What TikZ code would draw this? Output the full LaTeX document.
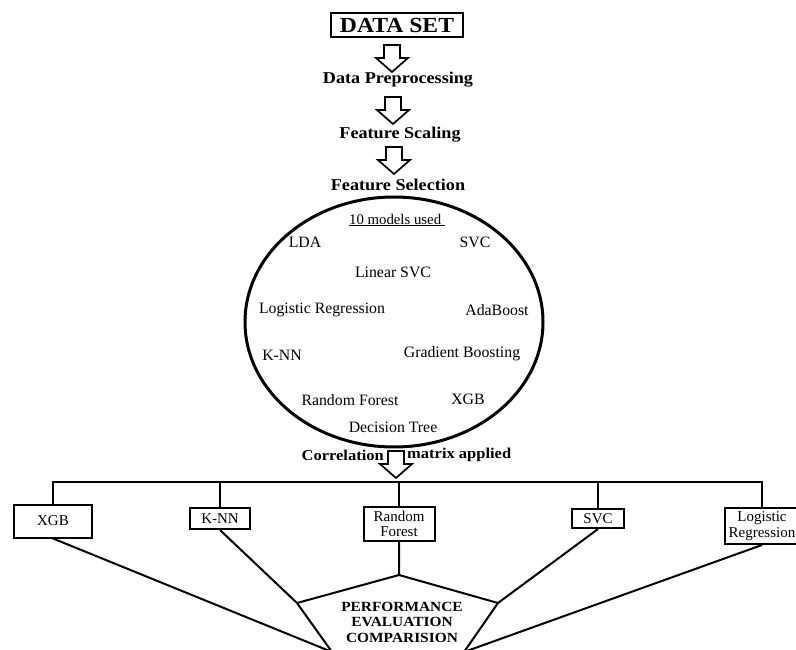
\documentclass[tikz,border=0pt]{standalone}
\usepackage{fontspec}
\setmainfont{Liberation Serif}
\newfontfamily\titlefont[FakeStretch=1.1]{Liberation Serif}
\usetikzlibrary{shapes.geometric,calc}
\begin{document}
\begin{tikzpicture}[x=1pt,y=-1pt,
  title/.style={font={\titlefont\bfseries\fontsize{16.5}{19}\selectfont}, inner sep=0},
  bigtitle/.style={font={\titlefont\bfseries\fontsize{21.5}{24}\selectfont}},
  lbl/.style={font={\fontsize{15.8}{18}\selectfont}, inner sep=0},
  boxb/.style={draw, line width=2pt, inner sep=0, align=center, font={\fontsize{15}{15.5}\selectfont}},
  conn/.style={line width=2pt, line join=miter},
  downarrow/.pic={\draw[line width=1.7pt, line join=miter, fill=white]
     (-8,0) -- (-8,13) -- (-16,13) -- (0,27) -- (16,13) -- (8,13) -- (8,0) -- cycle;}
]
\useasboundingbox (0,0) rectangle (796,650);
\fill[white] (0,0) rectangle (796,650);

% top chain
\node[draw, line width=2pt, bigtitle, minimum width=132pt, minimum height=24pt, inner sep=0] (ds) at (397,25) {DATA SET};
\node[title] (pre) at (398,80) {Data Preprocessing};
\node[title] (scal) at (400,135) {Feature Scaling};
\node[title] (sel) at (398,185) {Feature Selection};
\coordinate (a1) at (392,45);
\coordinate (a2) at (393,97);
\coordinate (a3) at (394,147);
\pic at (a1) {downarrow};
\pic at (a2) {downarrow};
\pic at (a3) {downarrow};

% ellipse with models
\node[draw, ellipse, line width=3pt, minimum width=298pt, minimum height=250pt, inner sep=0] (models) at (394,322) {};
\node[lbl, font={\fontsize{14.8}{17}\selectfont}] (used) at (397,220) {\underline{10 models used\ }};
\node[lbl] (m1) at (305,242) {LDA};
\node[lbl] (m2) at (475,242) {SVC};
\node[lbl] (m3) at (393,272) {Linear SVC};
\node[lbl] (m4) at (322,310) {Logistic Regression};
\node[lbl] (m5) at (497,310) {AdaBoost};
\node[lbl] (m6) at (282,355) {K-NN};
\node[lbl] (m7) at (462,354) {Gradient Boosting};
\node[lbl] (m8) at (350,400) {Random Forest};
\node[lbl] (m9) at (468,399) {XGB};
\node[lbl] (m10) at (393,427) {Decision Tree};

% correlation
\node[title, font={\titlefont\bfseries\fontsize{15}{17}\selectfont}, anchor=east] (corr) at (384,455) {Correlation};
\node[title, font={\titlefont\bfseries\fontsize{15}{17}\selectfont}, anchor=west] (mat) at (407,455) {matrix applied};
\coordinate (a4) at (396,451);
\pic at (a4) {downarrow};

% bottom boxes
\coordinate (bus) at (0,482);
\node[boxb, minimum width=78pt, minimum height=33pt] (xgb) at (53,521) {XGB};
\node[boxb, minimum width=60pt, minimum height=21pt] (knn) at (220,518.5) {K-NN};
\node[boxb, minimum width=71pt, minimum height=34pt] (rf) at (399,524) {Random\\Forest};
\node[boxb, minimum width=52pt, minimum height=19pt] (svc) at (598,518.5) {SVC};
\node[boxb, minimum width=74pt, minimum height=36pt] (lr) at (762,526) {Logistic\\Regression};

\draw[conn] (xgb.north) -- (xgb.north |- bus) -- (lr.north |- bus) -- (lr.north);
\draw[conn] (knn.north) -- (knn.north |- bus);
\draw[conn] (rf.north) -- (rf.north |- bus);
\draw[conn] (svc.north) -- (svc.north |- bus);

% performance pentagon
\coordinate (ptop) at (399,575);
\coordinate (pl) at (297,603);
\coordinate (pr) at (498,603);
\coordinate (bl) at (332,652);
\coordinate (br) at (464,652);
\draw[conn] (rf.south) -- (ptop) -- (pl);
\draw[conn] (ptop) -- (pr);
\draw[conn] (knn.south) -- (pl) -- (bl);
\draw[conn] (svc.south) -- (pr) -- (br);
\draw[conn] (xgb.south) -- (bl);
\draw[conn] (lr.south) -- (br);
\node[align=center, inner sep=0, font={\titlefont\bfseries\fontsize{14}{15.5}\selectfont}] (perf) at (402,622) {PERFORMANCE\\EVALUATION\\COMPARISION};
\end{tikzpicture}
\end{document}
